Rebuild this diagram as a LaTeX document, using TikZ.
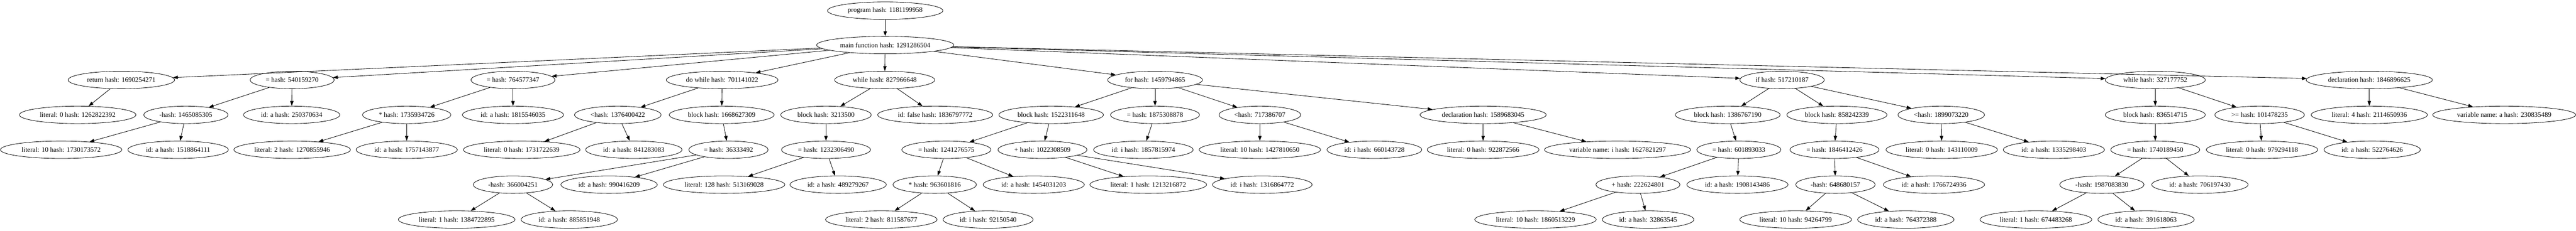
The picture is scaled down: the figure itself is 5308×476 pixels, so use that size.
\documentclass[tikz,border=0pt]{standalone}
\usepackage{fontspec}
\setmainfont{Liberation Serif}
\usetikzlibrary{arrows.meta,shapes.geometric}

\begin{document}
\begin{tikzpicture}[->,
            >={Triangle[length=10pt,width=7pt]},
            x=1pt, y=-1pt,
            line width=0.9pt,
            hashnode/.style={ellipse, draw, inner xsep=7pt, inner ysep=0pt,
              minimum height=36pt, font=\fontsize{14}{17}\selectfont}]

        \useasboundingbox (0,0) rectangle (5308,476);

        % top
        \node[hashnode] (prog)    at (1824,22)  {program hash: 1181199958};
        \node[hashnode] (main)    at (1824,93)  {main function hash: 1291286504};

        % statements
        \node[hashnode] (ret)     at (250,165)  {return hash: 1690254271};
        \node[hashnode] (asgA)    at (602,165)  {= hash: 540159270};
        \node[hashnode] (asgB)    at (1057,165) {= hash: 764577347};
        \node[hashnode] (dowhile) at (1488,165) {do while hash: 701141022};
        \node[hashnode] (whileA)  at (1823,165) {while hash: 827966648};
        \node[hashnode] (forst)   at (2380,165) {for hash: 1459794865};
        \node[hashnode] (ifst)    at (3672,165) {if hash: 517210187};
        \node[hashnode] (whileB)  at (4441,165) {while hash: 327177752};
        \node[hashnode] (declA)   at (4882,165) {declaration hash: 1846896625};

        \node[hashnode] (lit0a)   at (160,237)  {literal: 0 hash: 1262822392};
        \node[hashnode] (subA)    at (383,237)  {-hash: 1465085305};
        \node[hashnode] (idA1)    at (601,237)  {id: a hash: 250370634};
        \node[hashnode] (mulA)    at (838,237)  {* hash: 1735934726};
        \node[hashnode] (idA2)    at (1057,237) {id: a hash: 1815546035};
        \node[hashnode] (ltA)     at (1273,237) {<hash: 1376400422};
        \node[hashnode] (blkA)    at (1487,237) {block hash: 1668627309};
        \node[hashnode] (blkB)    at (1702,237) {block hash: 3213500};
        \node[hashnode] (idF)     at (1927,237) {id: false hash: 1836797772};
        \node[hashnode] (blkC)    at (2166,237) {block hash: 1522311648};
        \node[hashnode] (asgC)    at (2380,237) {= hash: 1875308878};
        \node[hashnode] (ltB)     at (2596,237) {<hash: 717386707};
        \node[hashnode] (declB)   at (3056,237) {declaration hash: 1589683045};
        \node[hashnode] (blkD)    at (3560,237) {block hash: 1386767190};
        \node[hashnode] (blkE)    at (3785,237) {block hash: 858242339};
        \node[hashnode] (ltC)     at (4000,237) {<hash: 1899073220};
        \node[hashnode] (blkF)    at (4441,237) {block hash: 836514715};
        \node[hashnode] (geA)     at (4656,237) {>= hash: 101478235};
        \node[hashnode] (lit4)    at (4882,237) {literal: 4 hash: 2114650936};
        \node[hashnode] (varA)    at (5160,237) {variable name: a hash: 230835489};

        \node[hashnode] (lit10a)  at (126,309)  {literal: 10 hash: 1730173572};
        \node[hashnode] (idA3)    at (367,309)  {id: a hash: 1518864111};
        \node[hashnode] (lit2a)   at (602,309)  {literal: 2 hash: 1270855946};
        \node[hashnode] (idA4)    at (838,309)  {id: a hash: 1757143877};
        \node[hashnode] (lit0b)   at (1075,309) {literal: 0 hash: 1731722639};
        \node[hashnode] (idA5)    at (1306,309) {id: a hash: 841283083};
        \node[hashnode] (asgD)    at (1501,309) {= hash: 36333492};
        \node[hashnode] (asgE)    at (1702,309) {= hash: 1232306490};
        \node[hashnode] (asgF)    at (1950,309) {= hash: 1241276575};
        \node[hashnode] (addA)    at (2148,309) {+ hash: 1022308509};
        \node[hashnode] (idI1)    at (2356,309) {id: i hash: 1857815974};
        \node[hashnode] (lit10b)  at (2596,309) {literal: 10 hash: 1427810650};
        \node[hashnode] (idI2)    at (2832,309) {id: i hash: 660143728};
        \node[hashnode] (lit0c)   at (3056,309) {literal: 0 hash: 922872566};
        \node[hashnode] (varI)    at (3333,309) {variable name: i hash: 1627821297};
        \node[hashnode] (asgG)    at (3583,309) {= hash: 601893033};
        \node[hashnode] (asgH)    at (3780,309) {= hash: 1846412426};
        \node[hashnode] (lit0d)   at (4001,309) {literal: 0 hash: 143110009};
        \node[hashnode] (idA6)    at (4232,309) {id: a hash: 1335298403};
        \node[hashnode] (asgI)    at (4441,309) {= hash: 1740189450};
        \node[hashnode] (lit0e)   at (4661,309) {literal: 0 hash: 979294118};
        \node[hashnode] (idA7)    at (4888,309) {id: a hash: 522764626};

        \node[hashnode] (subB)    at (1057,381) {-hash: 366004251};
        \node[hashnode] (idA8)    at (1255,381) {id: a hash: 990416209};
        \node[hashnode] (lit128)  at (1492,381) {literal: 128 hash: 513169028};
        \node[hashnode] (idA9)    at (1727,381) {id: a hash: 489279267};
        \node[hashnode] (mulB)    at (1926,381) {* hash: 963601816};
        \node[hashnode] (idA10)   at (2130,381) {id: a hash: 1454031203};
        \node[hashnode] (lit1a)   at (2366,381) {literal: 1 hash: 1213216872};
        \node[hashnode] (idI3)    at (2601,381) {id: i hash: 1316864772};
        \node[hashnode] (addB)    at (3375,381) {+ hash: 222624801};
        \node[hashnode] (idA11)   at (3580,381) {id: a hash: 1908143486};
        \node[hashnode] (subC)    at (3782,381) {-hash: 648680157};
        \node[hashnode] (idA12)   at (3985,381) {id: a hash: 1766724936};
        \node[hashnode] (subD)    at (4331,381) {-hash: 1987083830};
        \node[hashnode] (idA13)   at (4533,381) {id: a hash: 706197430};

        \node[hashnode] (lit1b)   at (941,453)  {literal: 1 hash: 1384722895};
        \node[hashnode] (idA14)   at (1173,453) {id: a hash: 885851948};
        \node[hashnode] (lit2b)   at (1816,453) {literal: 2 hash: 811587677};
        \node[hashnode] (idI4)    at (2036,453) {id: i hash: 92150540};
        \node[hashnode] (lit10c)  at (3164,453) {literal: 10 hash: 1860513229};
        \node[hashnode] (idA15)   at (3396,453) {id: a hash: 32863545};
        \node[hashnode] (lit10d)  at (3700,453) {literal: 10 hash: 94264799};
        \node[hashnode] (idA16)   at (3927,453) {id: a hash: 764372388};
        \node[hashnode] (lit1c)   at (4195,453) {literal: 1 hash: 674483268};
        \node[hashnode] (idA17)   at (4422,453) {id: a hash: 391618063};

        % edges
        \path (prog)    edge (main)
              (main)    edge (ret)   edge (asgA)  edge (asgB)  edge (dowhile)
                        edge (whileA) edge (forst) edge (ifst) edge (whileB)
                        edge (declA)
              (ret)     edge (lit0a)
              (asgA)    edge (subA)  edge (idA1)
              (asgB)    edge (mulA)  edge (idA2)
              (dowhile) edge (ltA)   edge (blkA)
              (whileA)  edge (blkB)  edge (idF)
              (forst)   edge (blkC)  edge (asgC)  edge (ltB)   edge (declB)
              (ifst)    edge (blkD)  edge (blkE)  edge (ltC)
              (whileB)  edge (blkF)  edge (geA)
              (declA)   edge (lit4)  edge (varA);

        \path (subA)    edge (lit10a) edge (idA3)
              (mulA)    edge (lit2a) edge (idA4)
              (ltA)     edge (lit0b) edge (idA5)
              (blkA)    edge (asgD)
              (blkB)    edge (asgE)
              (blkC)    edge (asgF)  edge (addA)
              (asgC)    edge (idI1)
              (ltB)     edge (lit10b) edge (idI2)
              (declB)   edge (lit0c) edge (varI)
              (blkD)    edge (asgG)
              (blkE)    edge (asgH)
              (ltC)     edge (lit0d) edge (idA6)
              (blkF)    edge (asgI)
              (geA)     edge (lit0e) edge (idA7);

        \path (asgD)    edge (subB)  edge (idA8)
              (asgE)    edge (lit128) edge (idA9)
              (asgF)    edge (mulB)  edge (idA10)
              (addA)    edge (lit1a) edge (idI3)
              (asgG)    edge (addB)  edge (idA11)
              (asgH)    edge (subC)  edge (idA12)
              (asgI)    edge (subD)  edge (idA13)
              (subB)    edge (lit1b) edge (idA14)
              (mulB)    edge (lit2b) edge (idI4)
              (addB)    edge (lit10c) edge (idA15)
              (subC)    edge (lit10d) edge (idA16)
              (subD)    edge (lit1c) edge (idA17);

    \end{tikzpicture}
\end{document}
